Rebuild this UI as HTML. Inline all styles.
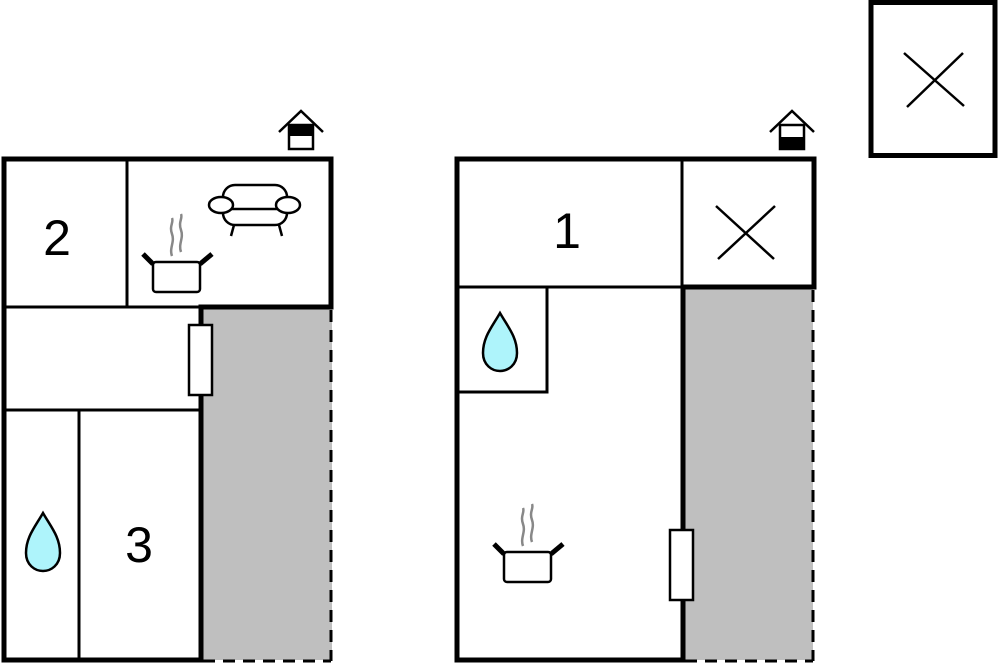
<!DOCTYPE html>
<html><head><meta charset="utf-8"><style>html,body{margin:0;padding:0;background:#fff}svg{display:block}</style></head><body>
<svg width="1000" height="664" viewBox="0 0 1000 664" xmlns="http://www.w3.org/2000/svg">
<defs>
<g id="pot">
<rect x="0" y="0" width="47" height="30" rx="3" fill="#fff" stroke="#000" stroke-width="2.5"/>
<line x1="-10" y1="-8" x2="0" y2="2" stroke="#000" stroke-width="5"/>
<line x1="47" y1="2" x2="59" y2="-8" stroke="#000" stroke-width="5"/>
<path d="M19,-6 C16,-14 22,-20 19,-28 C16,-36 21,-40 19,-44" fill="none" stroke="#888" stroke-width="2.5"/>
<path d="M28,-10 C25,-18 31,-24 28,-32 C25,-40 30,-44 28,-48" fill="none" stroke="#888" stroke-width="2.5"/>
</g>
<path id="drop" d="M0,-29 C-8,-15 -17,-5 -17,11 C-17,23 -8,29 0,29 C8,29 17,23 17,11 C17,-5 8,-15 0,-29 Z" fill="#aef4fb" stroke="#000" stroke-width="2.5"/>
</defs>

<!-- LEFT PLAN -->
<rect x="202" y="309" width="130" height="351" fill="#bfbfbf"/>
<line x1="4" y1="307" x2="200" y2="307" stroke="#000" stroke-width="3"/>
<line x1="127" y1="159" x2="127" y2="307" stroke="#000" stroke-width="3"/>
<line x1="4" y1="410" x2="200" y2="410" stroke="#000" stroke-width="3"/>
<line x1="79" y1="410" x2="79" y2="660" stroke="#000" stroke-width="3"/>
<path d="M4,660 L4,159 L331,159 L331,307 L201,307 L201,660 Z" fill="none" stroke="#000" stroke-width="5"/>
<line x1="4" y1="660" x2="203" y2="660" stroke="#000" stroke-width="5"/>
<line x1="331" y1="310" x2="331" y2="661" stroke="#000" stroke-width="3" stroke-dasharray="12,8"/>
<line x1="203" y1="661" x2="331" y2="661" stroke="#000" stroke-width="3" stroke-dasharray="12,8"/>
<rect x="189" y="325" width="23" height="70" fill="#fff" stroke="#000" stroke-width="2.5"/>
<text x="57" y="255" font-family="Liberation Sans, sans-serif" font-size="50" text-anchor="middle">2</text>
<text x="139" y="562" font-family="Liberation Sans, sans-serif" font-size="50" text-anchor="middle">3</text>
<use href="#drop" x="43" y="542"/>
<use href="#pot" x="153" y="262"/>
<!-- sofa -->
<g fill="#fff" stroke="#000" stroke-width="2.5">
<rect x="223" y="185" width="64" height="40" rx="12"/>
<line x1="228" y1="209" x2="283" y2="209"/>
<ellipse cx="221" cy="205" rx="12" ry="8"/>
<ellipse cx="288" cy="205" rx="12" ry="8"/>
<line x1="234" y1="225" x2="231" y2="236"/>
<line x1="279" y1="225" x2="282" y2="236"/>
</g>
<!-- house left -->
<polyline points="279,132 301,111 323,132" fill="none" stroke="#000" stroke-width="2.5"/>
<rect x="289" y="125" width="24" height="24" fill="#fff" stroke="#000" stroke-width="2.5"/>
<rect x="289" y="125" width="24" height="11" fill="#000"/>

<!-- RIGHT PLAN -->
<rect x="684" y="288" width="129" height="372" fill="#bfbfbf"/>
<line x1="457" y1="287" x2="682" y2="287" stroke="#000" stroke-width="3"/>
<line x1="682" y1="159" x2="682" y2="287" stroke="#000" stroke-width="3"/>
<rect x="457" y="287" width="90" height="105" fill="none" stroke="#000" stroke-width="3"/>
<path d="M457,660 L457,159 L814,159 L814,287 L683,287 L683,660 Z" fill="none" stroke="#000" stroke-width="5"/>
<line x1="457" y1="660" x2="685" y2="660" stroke="#000" stroke-width="5"/>
<line x1="813" y1="290" x2="813" y2="661" stroke="#000" stroke-width="3" stroke-dasharray="12,8"/>
<line x1="685" y1="661" x2="813" y2="661" stroke="#000" stroke-width="3" stroke-dasharray="12,8"/>
<rect x="670" y="530" width="23" height="70" fill="#fff" stroke="#000" stroke-width="2.5"/>
<text x="567" y="248" font-family="Liberation Sans, sans-serif" font-size="50" text-anchor="middle">1</text>
<line x1="716" y1="206" x2="774" y2="259" stroke="#000" stroke-width="2.5"/>
<line x1="718" y1="259" x2="775" y2="206" stroke="#000" stroke-width="2.5"/>
<use href="#drop" x="500" y="342"/>
<use href="#pot" x="504" y="552"/>
<polyline points="770,132 792,111 814,132" fill="none" stroke="#000" stroke-width="2.5"/>
<rect x="780" y="125" width="24" height="24" fill="#fff" stroke="#000" stroke-width="2.5"/>
<rect x="780" y="137" width="24" height="12" fill="#000"/>

<!-- TOP RIGHT BOX -->
<rect x="871" y="2.5" width="124" height="153" fill="#fff" stroke="#000" stroke-width="5"/>
<line x1="904" y1="53" x2="964" y2="106" stroke="#000" stroke-width="2.5"/>
<line x1="907" y1="107" x2="963" y2="53" stroke="#000" stroke-width="2.5"/>
</svg>
</body></html>
